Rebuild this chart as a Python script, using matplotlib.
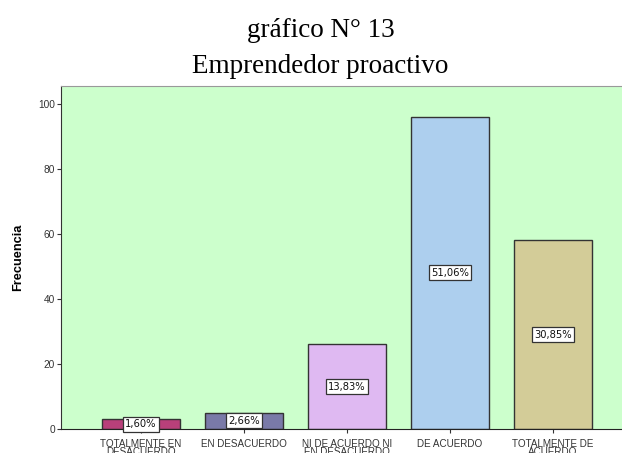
import matplotlib
matplotlib.use("Agg")
import matplotlib.pyplot as plt

# datos
categorias = ["TOTALMENTE EN\nDESACUERDO", "EN DESACUERDO", "NI DE ACUERDO NI\nEN DESACUERDO",
              "DE ACUERDO", "TOTALMENTE DE\nACUERDO"]
frecuencias = [3, 5, 26, 96, 58]
porcentajes = ["1,60%", "2,66%", "13,83%", "51,06%", "30,85%"]
colores = ["#B8407A", "#7A7AA8", "#DFB9F2", "#ADCFEE", "#D3CC98"]

fig = plt.figure(figsize=(6.22, 4.53), dpi=100)
ax = fig.add_axes([61/622, 1 - 429/453, 561/622, 343/453])
ax.set_facecolor("#CCFFCC")

x = list(range(len(categorias)))
ax.bar(x, frecuencias, width=0.75, color=colores, edgecolor="#333333", linewidth=1.0, zorder=2)

# etiquetas de porcentaje en el centro de cada barra
for i, (f, p) in enumerate(zip(frecuencias, porcentajes)):
    ax.text(i, f / 2, p, ha="center", va="center", fontsize=7.2, family="DejaVu Sans",
            color="#111111", zorder=3,
            bbox=dict(boxstyle="square,pad=0.25", facecolor="white", edgecolor="#333333", linewidth=0.9))

ax.set_xlim(-0.777, 4.67)
ax.set_ylim(0, 105.5)
ax.set_yticks([0, 20, 40, 60, 80, 100])
ax.set_xticks(x)
ax.set_xticklabels(categorias, fontsize=7.1, family="Liberation Sans", linespacing=0.72)
ax.tick_params(axis="y", labelsize=7.3, length=3, width=0.8, colors="#333333", pad=1.5)
ax.tick_params(axis="x", length=3, width=0.8, colors="#333333", pad=4.4)
for lab in ax.get_yticklabels():
    lab.set_family("Liberation Sans")

ax.spines["right"].set_visible(False)
ax.spines["top"].set_color("#999999")
ax.spines["left"].set_color("#333333")
ax.spines["bottom"].set_color("#222222")

ax.set_ylabel("Frecuencia", fontsize=9.2, fontweight="bold", family="Liberation Sans", labelpad=10)

fig.text(0.515, 1 - 37/453, "gráfico N° 13", ha="center", va="baseline", fontsize=19.5,
         family="Liberation Serif")
fig.text(0.515, 1 - 73/453, "Emprendedor proactivo", ha="center", va="baseline", fontsize=19.5,
         family="Liberation Serif")

fig.savefig("out.png", dpi=100)
